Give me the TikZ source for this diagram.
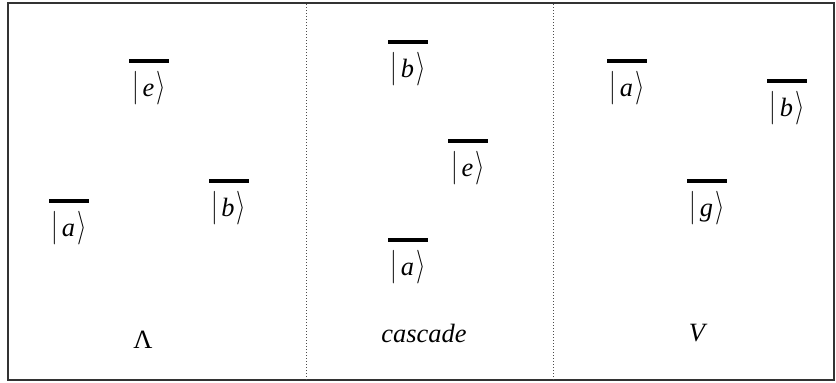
\documentclass[tikz,border=0pt]{standalone}
\usepackage{fontspec}
\usepackage{graphicx}
\setmainfont{Liberation Serif}
\usetikzlibrary{positioning}
\tikzset{
  frame/.style={draw=black!80, line width=0.8pt},
  divider/.style={draw=black!70, line width=0.5pt, densely dotted},
  level/.style={fill=black, inner sep=0pt, minimum width=20pt, minimum height=2.2pt},
  ket/.style={font=\fontsize{13.2}{16}\selectfont, inner sep=0pt},
  scheme/.style={font=\fontsize{13.2}{16}\selectfont, inner sep=1pt},
}
% a ket with tall, thin brackets
\newcommand{\ketlbl}[1]{\scalebox{1}[1.4]{$|$}\kern1.8pt\textit{#1}\kern1pt\scalebox{1}[1.4]{$\rangle$}}

\begin{document}
\begin{tikzpicture}[x=0.5pt, y=0.5pt]
\useasboundingbox (0,0) rectangle (836,383);

% outer box and the dotted lines between the three schemes
\draw[frame] (8,3) rectangle (834,380);
\draw[divider] (306,3) -- (306,380);
\draw[divider] (553,3) -- (553,380);

% levels, each with its ket below
\foreach \name/\x/\y/\s in {lamE/149/322/e, lamA/69/182/a, lamB/228.5/202/b,
                            casB/408/341/b, casE/468/242/e, casA/408/143/a,
                            vA/627/322/a, vB/787/302/b, vG/707/202/g} {
  \node[level] (\name) at (\x,\y) {};
  \node[ket, below=3.5pt of \name] (\name-k) {\ketlbl{\s}};
}

% names of the schemes
\node[scheme] (lambda) at (143,43) {Λ};
\node[scheme] (cascade) at (424,50) {\itshape cascade};
\node[scheme] (vee) at (697,50) {\itshape V};
\end{tikzpicture}
\end{document}
